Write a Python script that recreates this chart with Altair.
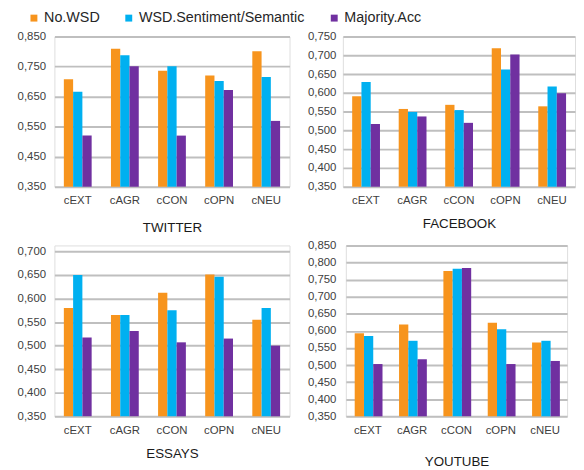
import altair as alt
import pandas as pd

traits = ["cEXT", "cAGR", "cCON", "cOPN", "cNEU"]
series = ["No.WSD", "WSD.Sentiment/Semantic", "Majority.Acc"]
colors = ["#F7941D", "#00B0F0", "#7030A0"]

tw_nowsd = [0.708, 0.809, 0.736, 0.720, 0.801]
tw_wsd = [0.666, 0.788, 0.751, 0.702, 0.715]
tw_maj = [0.520, 0.751, 0.520, 0.672, 0.569]

fb_nowsd = [0.591, 0.557, 0.568, 0.719, 0.564]
fb_wsd = [0.629, 0.549, 0.554, 0.662, 0.617]
fb_maj = [0.517, 0.537, 0.520, 0.702, 0.599]

es_nowsd = [0.580, 0.565, 0.612, 0.651, 0.555]
es_wsd = [0.650, 0.565, 0.575, 0.646, 0.580]
es_maj = [0.517, 0.531, 0.507, 0.515, 0.500]

yt_nowsd = [0.593, 0.619, 0.775, 0.624, 0.566]
yt_wsd = [0.585, 0.571, 0.782, 0.605, 0.571]
yt_maj = [0.503, 0.517, 0.784, 0.503, 0.512]

tw_ticks = [0.35, 0.45, 0.55, 0.65, 0.75, 0.85]
fb_ticks = [0.35, 0.40, 0.45, 0.50, 0.55, 0.60, 0.65, 0.70, 0.75]
es_ticks = [0.35, 0.40, 0.45, 0.50, 0.55, 0.60, 0.65, 0.70]
yt_ticks = [0.35, 0.40, 0.45, 0.50, 0.55, 0.60, 0.65, 0.70, 0.75, 0.80, 0.85]


def make_df(a, b, c):
    rows = []
    for s, vals in zip(series, [a, b, c]):
        for t, v in zip(traits, vals):
            rows.append({"trait": t, "series": s, "value": v})
    return pd.DataFrame(rows)


LABEL_EXPR = "replace(format(datum.value, '.3f'), '.', ',')"
FONT = "Liberation Sans, Arial, sans-serif"


def panel(df, title, width, height, domain, ticks, ypad, tpad):
    return alt.Chart(df).mark_bar().encode(
        x=alt.X("trait:N", sort=traits,
                scale=alt.Scale(paddingInner=0.41, paddingOuter=0.2),
                axis=alt.Axis(title=title, labelAngle=0, domain=False, ticks=False,
                              labelPadding=8, titlePadding=tpad, titleFontSize=13.5,
                              titleFontWeight="normal", labelFontSize=11.5,
                              labelColor="#404040", titleColor="#1a1a1a")),
        xOffset=alt.XOffset("series:N", sort=series),
        y=alt.Y("value:Q",
                scale=alt.Scale(domain=domain, zero=False, nice=False),
                axis=alt.Axis(values=ticks, title=None, labelExpr=LABEL_EXPR,
                              domain=False, ticks=False, labelPadding=ypad,
                              labelFontSize=11.5, labelColor="#404040",
                              gridColor="#bfbfbf", gridWidth=2)),
        y2=alt.datum(0.35),
        color=alt.Color("series:N", sort=series,
                        scale=alt.Scale(domain=series, range=colors),
                        legend=alt.Legend(orient="none", legendX=-28, legendY=-26,
                                          direction="horizontal", title=None,
                                          symbolType="square", symbolSize=49,
                                          symbolStrokeWidth=0, labelFontSize=14.5,
                                          labelLimit=400,
                                          labelColor="#262626", columnPadding=22,
                                          labelOffset=3)),
    ).properties(width=width, height=height)


tw = panel(make_df(tw_nowsd, tw_wsd, tw_maj), "TWITTER", 238, 152, [0.35, 0.85], tw_ticks, 9, 14.5)
fb = panel(make_df(fb_nowsd, fb_wsd, fb_maj), "FACEBOOK", 235, 152, [0.35, 0.75], fb_ticks, 7, 11)
es = panel(make_df(es_nowsd, es_wsd, es_maj), "ESSAYS", 238, 173, [0.35, 0.7126], es_ticks, 9, 11.5)
yt = panel(make_df(yt_nowsd, yt_wsd, yt_maj), "YOUTUBE", 224, 173, [0.35, 0.85], yt_ticks, 10, 19.5)

chart = alt.vconcat(
    alt.hconcat(tw, fb, spacing=16),
    alt.hconcat(es, yt, spacing=16),
    spacing=4.5,
).properties(
    padding={"left": 8, "top": 0, "right": 0, "bottom": 0}
).configure_view(stroke=None).configure(
    font=FONT
).configure_axis(labelFont=FONT, titleFont=FONT).configure_legend(labelFont=FONT)

chart.save("out.html", embed_options={"renderer": "svg", "actions": False})
